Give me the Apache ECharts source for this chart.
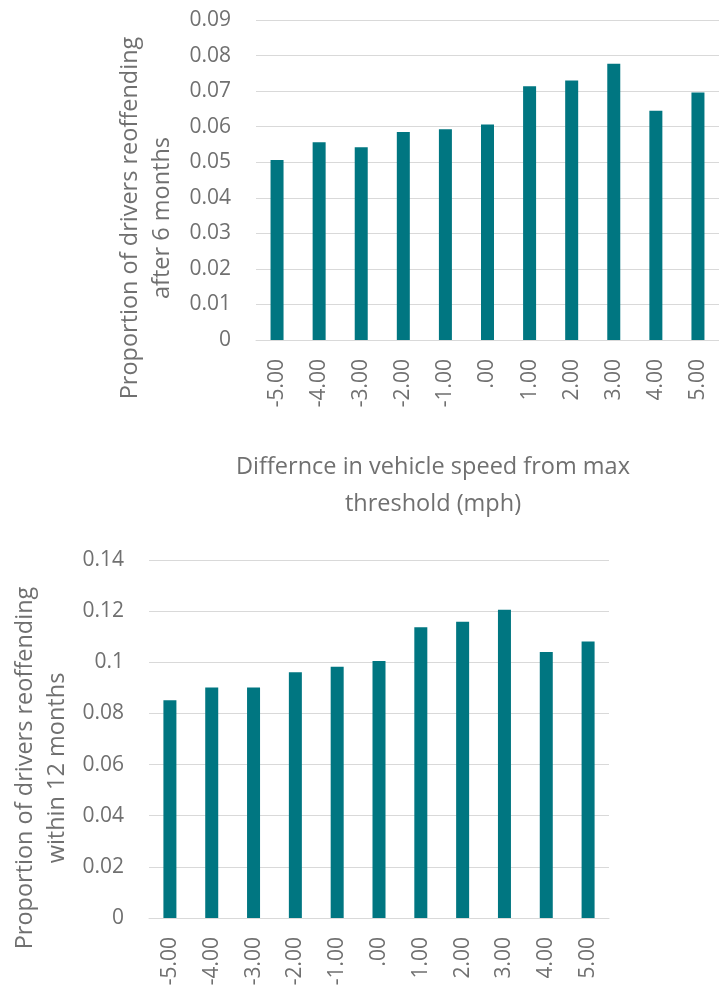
<!DOCTYPE html>
<html>
<head>
<meta charset="utf-8">
<script src="https://cdn.jsdelivr.net/npm/echarts@6/dist/echarts.min.js"></script>
<style>
  html, body { margin: 0; padding: 0; background: #fff; }
  #main { width: 719px; height: 992px; }
</style>
</head>
<body>
<div id="main"></div>
<script>
var chartDom = document.getElementById('main');
var myChart = echarts.init(chartDom);

// speed difference categories (mph)
var speedLabels = ['-5.00', '-4.00', '-3.00', '-2.00', '-1.00', '.00', '1.00', '2.00', '3.00', '4.00', '5.00'];
// proportion reoffending after 6 months
var after6Months = [0.0506, 0.0556, 0.0542, 0.0585, 0.0593, 0.0606, 0.0714, 0.0730, 0.0777, 0.0645, 0.0696];
// proportion reoffending within 12 months
var within12Months = [0.0852, 0.0901, 0.0901, 0.0961, 0.0983, 0.1005, 0.1137, 0.1159, 0.1205, 0.1040, 0.1081];

var barColor = '#007681';
var textColor = '#707070';
var gridColor = '#d9d9d9';
var fontFamily = '"Open Sans", "Noto Sans", sans-serif';

function catAxis(gridIndex) {
    return {
        type: 'category',
        gridIndex: gridIndex,
        data: speedLabels,
        axisTick: { show: false },
        axisLine: { lineStyle: { color: gridColor, width: 1 } },
        axisLabel: {
            rotate: 90,
            margin: 19,
            color: textColor,
            fontSize: 21,
            fontFamily: fontFamily,
            interval: 0
        }
    };
}

function valAxis(gridIndex, max, interval) {
    return {
        type: 'value',
        gridIndex: gridIndex,
        min: 0,
        max: max,
        interval: interval,
        axisLine: { show: false },
        axisTick: { show: false },
        splitLine: { lineStyle: { color: gridColor, width: 1 } },
        axisLabel: {
            margin: 25,
            color: textColor,
            fontSize: 21,
            fontFamily: fontFamily
        }
    };
}

var option = {
    backgroundColor: '#fff',
    animation: false,
    grid: [
        { left: 256, top: 20, width: 466, height: 320 },
        { left: 149, top: 560, width: 460, height: 358 }
    ],
    xAxis: [catAxis(0), catAxis(1)],
    yAxis: [valAxis(0, 0.09, 0.01), valAxis(1, 0.14, 0.02)],
    // axis titles
    graphic: [
        {
            type: 'text', x: 146, y: 218, rotation: Math.PI / 2,
            style: {
                text: 'Proportion of drivers reoffending\nafter 6 months',
                fill: textColor, fontSize: 23.5, fontFamily: fontFamily,
                align: 'center', verticalAlign: 'middle', lineHeight: 32
            }
        },
        {
            type: 'text', x: 433, y: 486,
            style: {
                text: 'Differnce in vehicle speed from max\nthreshold (mph)',
                fill: textColor, fontSize: 23.5, fontFamily: fontFamily,
                align: 'center', verticalAlign: 'middle', lineHeight: 37
            }
        },
        {
            type: 'text', x: 41, y: 768, rotation: Math.PI / 2,
            style: {
                text: 'Proportion of drivers reoffending\nwithin 12 months',
                fill: textColor, fontSize: 23.5, fontFamily: fontFamily,
                align: 'center', verticalAlign: 'middle', lineHeight: 32
            }
        }
    ],
    series: [
        {
            type: 'bar', xAxisIndex: 0, yAxisIndex: 0,
            data: after6Months, barWidth: 13,
            itemStyle: { color: barColor }
        },
        {
            type: 'bar', xAxisIndex: 1, yAxisIndex: 1,
            data: within12Months, barWidth: 13,
            itemStyle: { color: barColor }
        }
    ]
};

myChart.setOption(option);
</script>
</body>
</html>
